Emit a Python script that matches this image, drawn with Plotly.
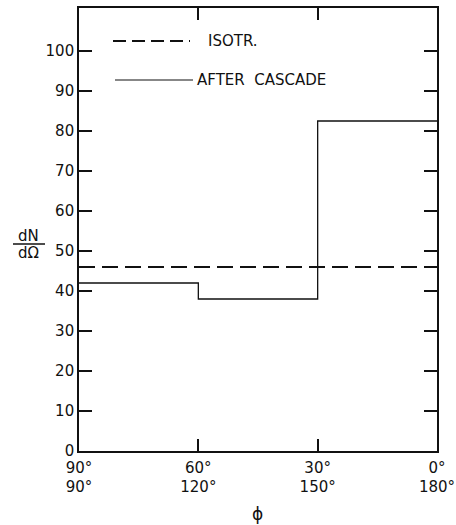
import plotly.graph_objects as go

# ---- data ----
phi_edges = [90, 60, 30, 0]                 # bin edges (degrees), left to right
after_cascade = [42, 38, 82.5]              # dN/dΩ per bin
isotropic = 46                              # isotropic level
y_ticks = [0, 10, 20, 30, 40, 50, 60, 70, 80, 90, 100]
x_tick_row1 = ["90°", "60°", "30°", "0°"]
x_tick_row2 = ["90°", "120°", "150°", "180°"]

INK = "#111111"
FONT = "DejaVu Sans"

fig = go.Figure()

# step histogram
step_x = phi_edges
step_y = after_cascade + [after_cascade[-1]]
fig.add_trace(go.Scatter(x=step_x, y=step_y, mode="lines", line_shape="hv",
                         line=dict(color=INK, width=1.3), showlegend=False,
                         hoverinfo="skip"))
# isotropic dashed line
fig.add_trace(go.Scatter(x=[phi_edges[0], phi_edges[-1]], y=[isotropic, isotropic],
                         mode="lines", line=dict(color=INK, width=2, dash="16px,7px"),
                         showlegend=False, hoverinfo="skip"))
# invisible trace on the second x-axis so it renders
fig.add_trace(go.Scatter(x=[phi_edges[0]], y=[0], xaxis="x2", mode="markers",
                         marker=dict(opacity=0), showlegend=False, hoverinfo="skip"))

L, R, T, B = 79, 19, 8, 74
W, H = 456, 525
pw, ph = W - L - R, H - T - B
y_top = 110.75

def px2x(px):
    return (px - L) / pw

def px2y(py):
    return (H - B - py) / ph

axis_common = dict(showgrid=False, zeroline=False, showline=True, linecolor=INK,
                   linewidth=1.6, ticks="inside", tickcolor=INK, tickwidth=1.5,
                   automargin=False,
                   tickfont=dict(family=FONT, size=15, color=INK))

fig.update_layout(
    width=W, height=H,
    margin=dict(l=L, r=R, t=T, b=B, autoexpand=False),
    paper_bgcolor="white", plot_bgcolor="white",
    xaxis=dict(range=[90, 0], tickvals=phi_edges, ticktext=x_tick_row1,
               mirror="ticks", ticklen=12, ticklabelstandoff=2,
               **axis_common),
    xaxis2=dict(range=[90, 0], overlaying="x", side="bottom", anchor="y",
                tickvals=phi_edges, ticktext=x_tick_row2, ticks="", showline=False,
                showgrid=False, zeroline=False, ticklabelstandoff=25, automargin=False,
                tickfont=dict(family=FONT, size=15, color=INK)),
    yaxis=dict(range=[0, y_top], tickvals=y_ticks, mirror="ticks", ticklen=13,
               ticklabelstandoff=0, **axis_common),
)

# x-axis title
fig.add_annotation(text="ϕ", x=px2x(257), y=px2y(514), xref="paper", yref="paper",
                   xanchor="center", yanchor="middle", showarrow=False,
                   font=dict(family=FONT, size=17, color=INK))

# y-axis label as a fraction dN / dΩ
fig.add_annotation(text="dN", x=px2x(28), y=px2y(236), xref="paper", yref="paper",
                   xanchor="center", yanchor="middle",
                   showarrow=False, font=dict(family=FONT, size=15, color=INK))
fig.add_annotation(text="dΩ", x=px2x(28), y=px2y(253), xref="paper", yref="paper",
                   xanchor="center", yanchor="middle",
                   showarrow=False, font=dict(family=FONT, size=15, color=INK))
fig.add_shape(type="line", xref="paper", yref="paper", x0=px2x(13), x1=px2x(45),
              y0=px2y(244), y1=px2y(244), line=dict(color=INK, width=1.5))

# legend drawn inside the frame
fig.add_shape(type="line", xref="paper", yref="paper", x0=px2x(113), x1=px2x(190),
              y0=px2y(41), y1=px2y(41), line=dict(color=INK, width=2, dash="13px,6px"))
fig.add_shape(type="line", xref="paper", yref="paper", x0=px2x(115), x1=px2x(193),
              y0=px2y(80), y1=px2y(80), line=dict(color=INK, width=1.2))
fig.add_annotation(text="ISOTR.", x=px2x(206), y=px2y(41), xref="paper", yref="paper",
                   xanchor="left", yanchor="middle", showarrow=False,
                   font=dict(family=FONT, size=15, color=INK))
fig.add_annotation(text="AFTER  CASCADE", x=px2x(195), y=px2y(80), xref="paper", yref="paper",
                   xanchor="left", yanchor="middle", showarrow=False,
                   font=dict(family=FONT, size=15, color=INK))

fig.write_html("out.html")
